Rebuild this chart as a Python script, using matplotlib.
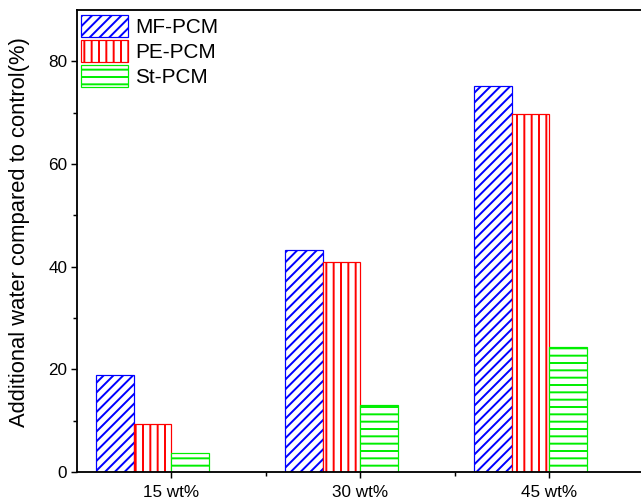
import matplotlib
matplotlib.use("Agg")
import matplotlib.pyplot as plt
import numpy as np

categories = ["15 wt%", "30 wt%", "45 wt%"]
series_names = ["MF-PCM", "PE-PCM", "St-PCM"]
mf_pcm = [18.9, 43.2, 75.1]
pe_pcm = [9.3, 40.9, 69.7]
st_pcm = [3.7, 13.0, 24.3]

colors = ["#0000ff", "#ff0000", "#00ee00"]
hatches = ["///", "||", "--"]
offsets = [-0.3, -0.1, 0.1]
width = 0.2

DPI = 88
plt.rcParams['font.family'] = ['Liberation Sans', 'DejaVu Sans']
plt.rcParams['hatch.linewidth'] = 1.6

fig = plt.figure(figsize=(641 / DPI, 501 / DPI), dpi=DPI)
W, H = 641, 501
ax = fig.add_axes([77 / W, 1 - 472 / H, (644 - 77) / W, (472 - 10) / H])

x = np.arange(1, len(categories) + 1)
for vals, name, c, h, off in zip([mf_pcm, pe_pcm, st_pcm], series_names, colors, hatches, offsets):
    plt.rcParams['hatch.color'] = c
    ax.bar(x + off, vals, width, facecolor='white', edgecolor=c, hatch=h,
           linewidth=1.0, label=name)

ax.set_xlim(0.5, 3.5)
ax.set_ylim(0, 90)
ax.set_xticks(x)
ax.set_xticklabels(categories, fontsize=14)
ax.set_xticks([1.5, 2.5], minor=True)
ax.set_yticks([0, 20, 40, 60, 80])
ax.set_yticks([10, 30, 50, 70], minor=True)
ax.tick_params(axis='y', labelsize=14)
ax.tick_params(which='major', direction='out', length=5, width=1.2, pad=3)
ax.tick_params(axis='x', which='major', pad=6)
ax.tick_params(which='minor', direction='out', length=3, width=1.2)
for s in ax.spines.values():
    s.set_linewidth(1.5)

ax.set_ylabel("Additional water compared to control(%)", fontsize=18)
ax.yaxis.set_label_coords(-0.083, 0.52)

ax.legend(loc='upper left', bbox_to_anchor=(4 / 567, 1 - 5 / 462), frameon=False,
          borderaxespad=0, borderpad=0, fontsize=17, handlelength=2.26,
          handleheight=1.25, labelspacing=0.15, handletextpad=0.33)

fig.savefig("out.png", dpi=DPI)
